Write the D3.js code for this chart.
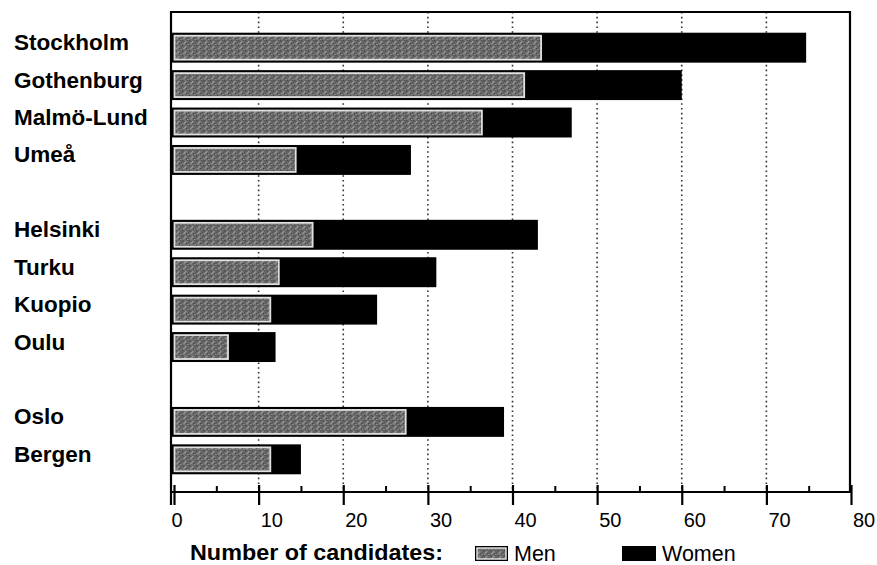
<!DOCTYPE html>
<html><head><meta charset="utf-8">
<script src="https://cdn.jsdelivr.net/npm/d3@7/dist/d3.min.js"></script>
<style>
html,body{margin:0;padding:0;background:#fff;}
svg{display:block;}
</style></head>
<body>
<svg id="chart" width="877" height="565"></svg>
<script>
// ---- data ----
const cities = ["Stockholm","Gothenburg","Malmö-Lund","Umeå","Helsinki","Turku","Kuopio","Oulu","Oslo","Bergen"];
const groupEnds = [3, 7];           // a blank row follows these city indices
const men   = [43.5, 41.5, 36.5, 14.5, 16.5, 12.5, 11.5, 6.5, 27.5, 11.5];
const women = [31.2, 18.5, 10.5, 13.5, 26.5, 18.5, 12.5, 5.5, 11.5, 3.5];
const majorTicks = [0,10,20,30,40,50,60,70,80];
const minorTicks = [5,15,25,35,45,55,65,75];
const gridTicks = [10,20,30,40,50,60,70];
const legendTitle = "Number of candidates:";
const seriesNames = ["Men","Women"];

// ---- layout ----
const svg = d3.select("#chart");
const frame = {left:171, right:850, top:12, bottom:492};

const slots = [];
cities.forEach((c,i)=>{ slots.push(c); if(groupEnds.includes(i)) slots.push("gap"+i); });

const x = d3.scaleLinear().domain([0,80]).range([174,851]);
const y = d3.scaleBand().domain(slots).range([14,493]).paddingInner(0.2).paddingOuter(0.5);

// texture pattern for men
const defs = svg.append("defs");
const pat = defs.append("pattern").attr("id","menTex").attr("patternUnits","userSpaceOnUse")
  .attr("width",7).attr("height",5);
pat.append("rect").attr("width",7).attr("height",5).attr("fill","#6c6c6c");
const speck = [[0,0,"#4a4a4a"],[3,1,"#959595"],[1,3,"#8a8a8a"],[4,3,"#454545"],[5,0,"#5a5a5a"],[2,2,"#a0a0a0"],[6,2,"#555"],[5,4,"#8f8f8f"],[1,1,"#5c5c5c"]];
speck.forEach(s=>pat.append("rect").attr("x",s[0]).attr("y",s[1]).attr("width",1.4).attr("height",1.4).attr("fill",s[2]));

// grid
svg.append("g").selectAll("line").data(gridTicks).join("line")
  .attr("x1",d=>x(d)).attr("x2",d=>x(d))
  .attr("y1",frame.top).attr("y2",frame.bottom)
  .attr("stroke","#333").attr("stroke-width",1.6).attr("stroke-dasharray","1.6,3.2");

// bars
const rows = cities.map((c,i)=>({city:c, men:men[i], women:women[i]}));
const g = svg.append("g");
g.selectAll("rect.total").data(rows).join("rect").attr("class","total")
  .attr("x",x(0)-2).attr("y",d=>y(d.city))
  .attr("width",d=>x(d.men+d.women)-x(0)+2).attr("height",y.bandwidth())
  .attr("fill","#000");
g.selectAll("rect.men").data(rows).join("rect").attr("class","men")
  .attr("x",x(0)+0.5).attr("y",d=>y(d.city)+3)
  .attr("width",d=>x(d.men)-x(0)-1.5).attr("height",y.bandwidth()-6)
  .attr("fill","url(#menTex)").attr("stroke","#e0e0e0").attr("stroke-width",1.8);

// frame
svg.append("path")
  .attr("d",`M${frame.left},505 L${frame.left},${frame.top} L${frame.right},${frame.top} L${frame.right},${frame.bottom}`)
  .attr("fill","none").attr("stroke","#000").attr("stroke-width",2.2);

// x axis: major ticks
const axMajor = svg.append("g").attr("transform",`translate(0,${frame.bottom})`)
  .call(d3.axisBottom(x).tickValues(majorTicks).tickSize(13).tickSizeOuter(0).tickFormat(d3.format("d")));
axMajor.select(".domain").attr("stroke","#000").attr("stroke-width",2.2)
  .attr("d",`M${frame.left},0H${x(80)}`);
axMajor.selectAll(".tick line").attr("y1",-7).attr("stroke","#000").attr("stroke-width",2.2);
axMajor.selectAll(".tick text")
  .attr("y",null).attr("dy",null)
  .attr("transform",d=>d===0?"translate(-3,35)":"translate(1.5,35)")
  .attr("text-anchor","start")
  .attr("font-family","'Liberation Sans', Arial, sans-serif")
  .attr("font-size",20).attr("fill","#000");
// minor ticks
const axMinor = svg.append("g").attr("transform",`translate(0,${frame.bottom})`)
  .call(d3.axisBottom(x).tickValues(minorTicks).tickSize(-6).tickSizeOuter(0).tickFormat(""));
axMinor.select(".domain").remove();
axMinor.selectAll(".tick line").attr("stroke","#000").attr("stroke-width",2);

// category labels
svg.append("g").selectAll("text").data(cities).join("text")
  .attr("x",14).attr("y",d=>y(d)+y.bandwidth()/2+2.5)
  .attr("font-family","'Liberation Sans', Arial, sans-serif")
  .attr("font-weight","bold").attr("font-size",22.5).attr("fill","#000")
  .text(d=>d);

// legend
const leg = svg.append("g").attr("font-family","'Liberation Sans', Arial, sans-serif").attr("fill","#000");
leg.append("text").attr("x",190).attr("y",560).attr("font-weight","bold").attr("font-size",22)
  .attr("textLength",253).attr("lengthAdjust","spacingAndGlyphs").text(legendTitle);
leg.append("rect").attr("x",475).attr("y",546).attr("width",33).attr("height",15).attr("fill","#000");
leg.append("rect").attr("x",477).attr("y",548).attr("width",29).attr("height",11)
  .attr("fill","url(#menTex)").attr("stroke","#e0e0e0").attr("stroke-width",1.5);
leg.append("text").attr("x",514).attr("y",561).attr("font-size",21.5).text(seriesNames[0]);
leg.append("rect").attr("x",622).attr("y",546).attr("width",34).attr("height",15).attr("fill","#000");
leg.append("text").attr("x",662).attr("y",561).attr("font-size",21.5).text(seriesNames[1]);
</script>
</body></html>
